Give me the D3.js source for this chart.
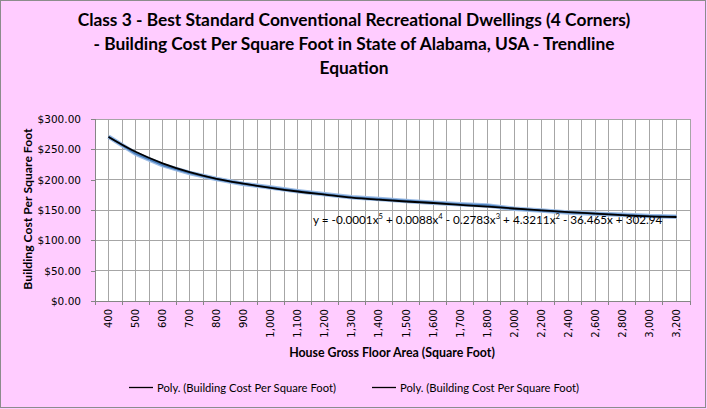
<!DOCTYPE html>
<html>
<head>
<meta charset="utf-8">
<script src="https://cdn.jsdelivr.net/npm/d3@7"></script>
<style>
  html, body { margin: 0; padding: 0; background: #fff; }
  svg { display: block; }
</style>
</head>
<body>
<svg id="chart" width="707" height="409"></svg>
<script>
// ---- Data ----
const categories = ["400","500","600","700","800","900","1,000","1,100","1,200","1,300","1,400","1,500","1,600","1,700","1,800","2,000","2,200","2,400","2,600","2,800","3,000","3,200"];
const costPerSqFt = [271, 243, 224, 211, 201, 193, 187, 181, 176, 171, 168, 165, 162, 159.5, 157.5, 152, 149, 146, 144, 142, 140, 139];
const trendValues = [270.5, 246, 227, 212.5, 201.5, 193.5, 186.5, 180.5, 175.5, 170.5, 167, 164, 161.5, 158.5, 155.5, 152.5, 149.5, 146.5, 144, 141.5, 139.5, 138.5];
const yTicks = [0, 50, 100, 150, 200, 250, 300];
const titleLines = [
  "Class 3 - Best Standard Conventional Recreational Dwellings (4 Corners)",
  "- Building Cost Per Square Foot in State of Alabama, USA - Trendline",
  "Equation"
];
const legendLabels = ["Poly. (Building Cost Per Square Foot)", "Poly. (Building Cost Per Square Foot)"];
const xTitle = "House Gross Floor Area (Square Foot)";
const yTitle = "Building Cost Per Square Foot";

// ---- Layout ----
const W = 707, H = 409;
const plot = { left: 95, right: 690, top: 119, bottom: 301 };
const svg = d3.select("#chart");
const FONT = "Lato, 'Open Sans', sans-serif";
const TICKFONT = "'DejaVu Sans', Verdana, sans-serif";

function fitWidth(sel, target) {
  const w = sel.node().getBBox().width;
  const fs = parseFloat(sel.attr("font-size"));
  sel.attr("font-size", fs * target / w);
  return fs * target / w;
}

// background
svg.append("rect").attr("x", 0).attr("y", 0).attr("width", W).attr("height", H).attr("fill", "#FFCCFF");
svg.append("rect").attr("x", 0.5).attr("y", 0.5).attr("width", 705).attr("height", 407)
  .attr("fill", "none").attr("stroke", "#8c8c8c").attr("stroke-width", 1);

// plot area
svg.append("rect").attr("x", plot.left).attr("y", plot.top)
  .attr("width", plot.right - plot.left).attr("height", plot.bottom - plot.top).attr("fill", "#fff");

const x = d3.scaleBand().domain(categories).range([plot.left, plot.right]).paddingInner(0).paddingOuter(0);
const y = d3.scaleLinear().domain([0, 300]).range([plot.bottom, plot.top]);
const bw = x.bandwidth();
const cx = d => x(d) + bw / 2;

// vertical gridlines: category boundaries and centres
const vGrid = [];
categories.forEach(c => { vGrid.push(x(c)); vGrid.push(cx(c)); });
vGrid.push(plot.right);
svg.append("g").selectAll("line").data(vGrid.slice(1)).join("line")
  .attr("x1", d => d).attr("x2", d => d).attr("y1", plot.top).attr("y2", plot.bottom)
  .attr("stroke", "#a6a6a6").attr("stroke-width", 1).attr("shape-rendering", "crispEdges");

// horizontal gridlines
svg.append("g").selectAll("line").data(yTicks.filter(t => t > 0)).join("line")
  .attr("x1", plot.left).attr("x2", plot.right).attr("y1", d => y(d)).attr("y2", d => y(d))
  .attr("stroke", "#a6a6a6").attr("stroke-width", 1).attr("shape-rendering", "crispEdges");

// y axis
const yAxis = svg.append("g").attr("transform", `translate(${plot.left},0)`)
  .call(d3.axisLeft(y).tickValues(yTicks).tickFormat(d => "$" + d.toFixed(2)).tickSize(4).tickPadding(10));
yAxis.select(".domain").attr("stroke", "#868686").attr("shape-rendering", "crispEdges");
yAxis.selectAll(".tick line").attr("stroke", "#868686").attr("shape-rendering", "crispEdges");
yAxis.selectAll(".tick text").attr("font-family", TICKFONT).attr("font-size", 10.5).attr("fill", "#000");

// x axis
const xAxis = svg.append("g").attr("transform", `translate(0,${plot.bottom})`)
  .call(d3.axisBottom(x).tickSize(0).tickPadding(0));
xAxis.select(".domain").attr("stroke", "#868686").attr("shape-rendering", "crispEdges");
xAxis.selectAll(".tick text")
  .attr("font-family", TICKFONT).attr("font-size", 10).attr("fill", "#000")
  .attr("text-anchor", "end").attr("transform", "translate(0,8) rotate(-90)")
  .attr("x", 0).attr("y", 0).attr("dy", "0.35em");
// tick marks at category boundaries
const bounds = categories.map(c => x(c)).concat([plot.right]);
svg.append("g").selectAll("line").data(bounds).join("line")
  .attr("x1", d => d).attr("x2", d => d).attr("y1", plot.bottom).attr("y2", plot.bottom + 4)
  .attr("stroke", "#868686").attr("shape-rendering", "crispEdges");

// data series (blue) with soft halo
const lineLinear = d3.line().x((d, i) => cx(categories[i])).y(d => y(d));
svg.append("path").datum(costPerSqFt).attr("d", lineLinear)
  .attr("fill", "none").attr("stroke", "#9dbde6").attr("stroke-width", 4.5).attr("stroke-linejoin", "round");
svg.append("path").datum(costPerSqFt).attr("d", lineLinear)
  .attr("fill", "none").attr("stroke", "#4a7ebb").attr("stroke-width", 2.2).attr("stroke-linejoin", "round");

// trendline (black)
const lineSmooth = d3.line().curve(d3.curveMonotoneX).x((d, i) => cx(categories[i])).y(d => y(d));
svg.append("path").datum(trendValues).attr("d", lineSmooth)
  .attr("fill", "none").attr("stroke", "#000").attr("stroke-width", 1.8);

// equation label
const eq = svg.append("text").attr("x", 313).attr("y", 224)
  .attr("font-family", FONT).attr("font-size", 12).attr("fill", "#000");
const eqParts = [["y = -0.0001x", false], ["5", true], [" + 0.0088x", false], ["4", true],
  [" - 0.2783x", false], ["3", true], [" + 4.3211x", false], ["2", true], [" - 36.465x + 302.94", false]];
eqParts.forEach(([t, sup]) => {
  const ts = eq.append("tspan").text(t);
  if (sup) ts.attr("font-size", "0.65em").attr("baseline-shift", "super");
});
fitWidth(eq, 350);

// title
const t1 = svg.append("text").attr("x", 354).attr("y", 26).attr("text-anchor", "middle")
  .attr("font-family", FONT).attr("font-weight", "bold").attr("font-size", 16).attr("fill", "#000")
  .text(titleLines[0]);
const tfs = fitWidth(t1, 553);
svg.append("text").attr("x", 354).attr("y", 50).attr("text-anchor", "middle")
  .attr("font-family", FONT).attr("font-weight", "bold").attr("font-size", tfs).attr("fill", "#000")
  .text(titleLines[1]);
svg.append("text").attr("x", 354).attr("y", 74).attr("text-anchor", "middle")
  .attr("font-family", FONT).attr("font-weight", "bold").attr("font-size", tfs).attr("fill", "#000")
  .text(titleLines[2]);

// axis titles
const xt = svg.append("text").attr("x", 392).attr("y", 356.5).attr("text-anchor", "middle")
  .attr("font-family", FONT).attr("font-weight", "bold").attr("font-size", 12).attr("fill", "#000")
  .text(xTitle);
fitWidth(xt, 206);
const yt = svg.append("text").attr("transform", "translate(32,209) rotate(-90)").attr("text-anchor", "middle")
  .attr("font-family", FONT).attr("font-weight", "bold").attr("font-size", 12).attr("fill", "#000")
  .text(yTitle);
fitWidth(yt, 162);

// legend
const legendX = [129, 372];
legendLabels.forEach((lab, i) => {
  const g = svg.append("g");
  g.append("line").attr("x1", legendX[i]).attr("x2", legendX[i] + 24).attr("y1", 387.5).attr("y2", 387.5)
    .attr("stroke", "#000").attr("stroke-width", 1.3);
  const lt = g.append("text").attr("x", legendX[i] + 28).attr("y", 391.5)
    .attr("font-family", FONT).attr("font-size", 12).attr("fill", "#000").text(lab);
  fitWidth(lt, 179);
});
</script>
</body>
</html>
